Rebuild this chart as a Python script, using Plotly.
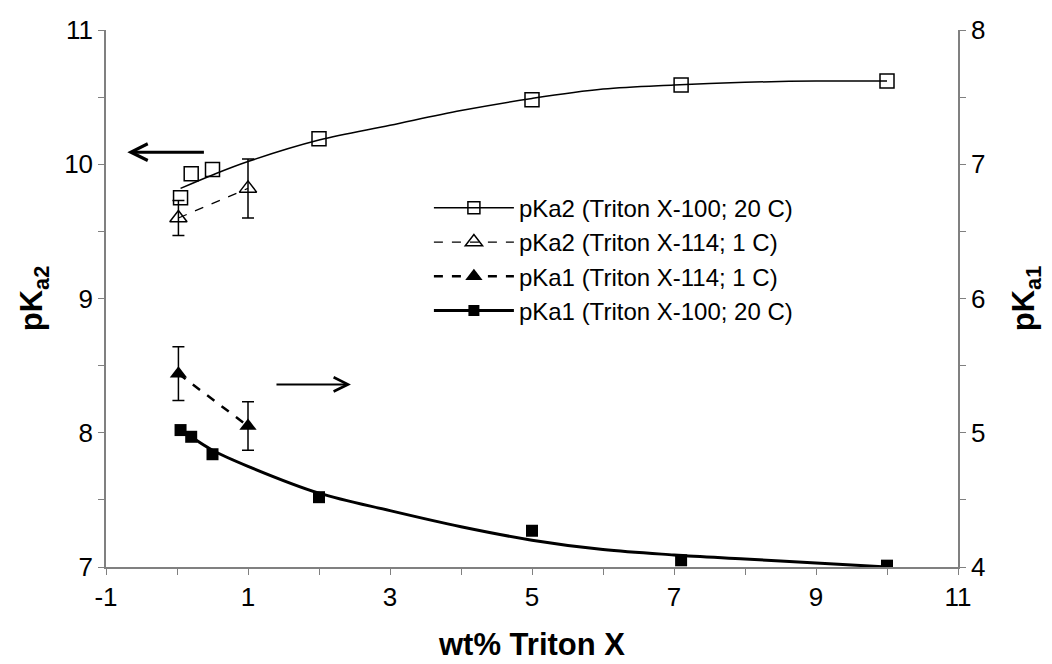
import plotly.graph_objects as go

# pKa2, Triton X-100, 20 C (open squares, left axis)
x100_x = [0.05, 0.2, 0.5, 2, 5, 7.1, 10]
pka2_x100 = [9.75, 9.93, 9.96, 10.19, 10.48, 10.59, 10.62]
# smooth fitted curve drawn through them
fit2_x = [0.05, 0.5, 1, 2, 3, 4, 5, 6, 7, 8, 9, 10]
fit2_y = [9.82, 9.92, 10.02, 10.18, 10.29, 10.40, 10.49, 10.56, 10.59, 10.61, 10.62, 10.62]

# pKa2, Triton X-114, 1 C (open triangles, left axis)
x114_x = [0.02, 1]
pka2_x114 = [9.60, 9.82]
pka2_x114_err = [0.13, 0.22]

# pKa1, Triton X-114, 1 C (filled triangles, right axis)
pka1_x114 = [5.44, 5.05]
pka1_x114_err = [0.20, 0.18]

# pKa1, Triton X-100, 20 C (filled squares, right axis)
pka1_x100 = [5.02, 4.97, 4.84, 4.52, 4.27, 4.05, 4.01]
fit1_x = [0.2, 0.5, 1, 2, 3, 4, 5, 6, 7, 8, 9, 10]
fit1_y = [4.97, 4.87, 4.75, 4.55, 4.42, 4.30, 4.20, 4.13, 4.09, 4.06, 4.03, 4.00]

# x tick labels (plain hyphen for -1, as in the original)
x_ticks = [-1, 1, 3, 5, 7, 9, 11]
x_ticktext = ["-1", "1", "3", "5", "7", "9", "11"]

FONT = "Arial, Liberation Sans, sans-serif"

fig = go.Figure()

fig.add_trace(go.Scatter(x=x100_x, y=pka2_x100, mode="markers", showlegend=False,
                         marker=dict(symbol="square-open", size=14, color="black", line=dict(width=1.5))))
fig.add_trace(go.Scatter(x=fit2_x, y=fit2_y, mode="lines", showlegend=False,
                         line=dict(color="black", width=1.5, shape="spline")))
fig.add_trace(go.Scatter(x=[None], y=[None], mode="lines+markers", name="pKa2 (Triton X-100; 20 C)",
                         line=dict(color="black", width=1.5),
                         marker=dict(symbol="square-open", size=12, color="black", line=dict(width=1.5))))

fig.add_trace(go.Scatter(x=x114_x, y=pka2_x114, mode="lines+markers", name="pKa2 (Triton X-114; 1 C)",
                         line=dict(color="black", width=1.2, dash="dash"),
                         marker=dict(symbol="triangle-up-open", size=15, color="black", line=dict(width=1.5)),
                         error_y=dict(type="data", array=pka2_x114_err, color="black", thickness=1.5, width=6)))

fig.add_trace(go.Scatter(x=x114_x, y=pka1_x114, mode="lines+markers", name="pKa1 (Triton X-114; 1 C)",
                         yaxis="y2",
                         line=dict(color="black", width=2.5, dash="dash"),
                         marker=dict(symbol="triangle-up", size=15, color="black"),
                         error_y=dict(type="data", array=pka1_x114_err, color="black", thickness=1.5, width=6)))

fig.add_trace(go.Scatter(x=x100_x, y=pka1_x100, mode="markers", showlegend=False, yaxis="y2",
                         marker=dict(symbol="square", size=12, color="black")))
fig.add_trace(go.Scatter(x=fit1_x, y=fit1_y, mode="lines", showlegend=False, yaxis="y2",
                         line=dict(color="black", width=3, shape="spline")))
fig.add_trace(go.Scatter(x=[None], y=[None], mode="lines+markers", name="pKa1 (Triton X-100; 20 C)",
                         yaxis="y2", line=dict(color="black", width=3),
                         marker=dict(symbol="square", size=11, color="black")))

axis_common = dict(showgrid=False, zeroline=False, showline=True, linecolor="#808080", linewidth=1.5,
                   ticks="outside", ticklen=6, tickcolor="#808080", automargin=False,
                   tickfont=dict(family=FONT, size=26, color="black"))

# page body has an 8px margin, so the plot box is shifted accordingly
fig.update_layout(
    width=1052, height=664,
    margin=dict(l=98, r=102, t=22, b=105),
    paper_bgcolor="white", plot_bgcolor="white",
    font=dict(family=FONT, color="black"),
    xaxis=dict(range=[-1, 11], tickvals=x_ticks, ticktext=x_ticktext,
               minor=dict(dtick=1, tick0=-1, ticks="outside", ticklen=6, tickcolor="#808080"),
               title=dict(text="<b>wt% Triton X</b>", font=dict(family=FONT, size=31), standoff=22),
               **axis_common),
    yaxis=dict(range=[7, 11], dtick=1,
               minor=dict(dtick=0.5, ticks="outside", ticklen=6, tickcolor="#808080"),
               title=dict(text="<b>pK<sub>a2</sub></b>", font=dict(family=FONT, size=31), standoff=12),
               **axis_common),
    yaxis2=dict(range=[4, 8], dtick=1, overlaying="y", side="right",
                minor=dict(dtick=0.5, ticks="outside", ticklen=6, tickcolor="#808080"),
                title=dict(text="<b>pK<sub>a1</sub></b>", font=dict(family=FONT, size=31), standoff=28),
                **axis_common),
    legend=dict(x=0.379, y=0.71, xanchor="left", yanchor="top", bgcolor="rgba(255,255,255,0)",
                font=dict(family=FONT, size=24, color="black"), itemwidth=80, tracegroupgap=0),
)

# direction arrows
fig.add_annotation(x=-0.7, y=10.09, ax=0.4, ay=10.09, xref="x", yref="y", axref="x", ayref="y",
                   showarrow=True, arrowhead=5, arrowsize=1.1, arrowwidth=3, arrowcolor="black", text="")
fig.add_annotation(x=2.45, y=8.36, ax=1.38, ay=8.36, xref="x", yref="y", axref="x", ayref="y",
                   showarrow=True, arrowhead=5, arrowsize=1.4, arrowwidth=2, arrowcolor="black", text="")

fig.write_html("out.html")
